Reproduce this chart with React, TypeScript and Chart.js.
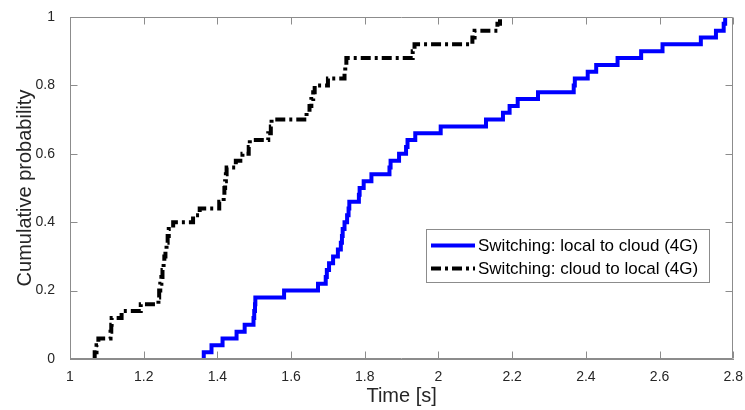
import React, { useEffect, useRef } from 'react';
import { Chart, registerables } from 'chart.js';

Chart.register(...registerables);

const X_TICKS = [1, 1.2, 1.4, 1.6, 1.8, 2, 2.2, 2.4, 2.6, 2.8];
const Y_TICKS = [0, 0.2, 0.4, 0.6, 0.8, 1];
const X_TITLE = 'Time [s]';
const Y_TITLE = 'Cumulative probability';
const SERIES_LABELS = ['Switching: local to cloud (4G)', 'Switching: cloud to local (4G)'];

// Series 1: local to cloud (empirical CDF steps)
const L2C_TIME = [
  1.363, 1.363, 1.384, 1.414, 1.452, 1.474, 1.498, 1.5, 1.502, 1.503,
  1.581, 1.673, 1.694, 1.697, 1.703, 1.714, 1.727, 1.735, 1.738, 1.74,
  1.745, 1.752, 1.756, 1.758, 1.784, 1.786, 1.797, 1.818, 1.867, 1.87,
  1.893, 1.912, 1.916, 1.937, 2.006, 2.129, 2.175, 2.193, 2.215, 2.27,
  2.367, 2.37, 2.405, 2.428, 2.486, 2.55, 2.608, 2.712, 2.753, 2.774,
  2.778,
];
const L2C_PROB = [
  0, 0.02, 0.04, 0.06, 0.08, 0.1, 0.12, 0.14, 0.16, 0.18,
  0.2, 0.22, 0.24, 0.26, 0.28, 0.3, 0.32, 0.34, 0.36, 0.38,
  0.4, 0.42, 0.44, 0.46, 0.48, 0.5, 0.52, 0.54, 0.56, 0.58,
  0.6, 0.62, 0.64, 0.66, 0.68, 0.7, 0.72, 0.74, 0.76, 0.78,
  0.8, 0.82, 0.84, 0.86, 0.88, 0.9, 0.92, 0.94, 0.96, 0.98,
  1,
];

// Series 2: cloud to local
const C2L_TIME = [
  1.067, 1.067, 1.072, 1.077, 1.11, 1.112, 1.113, 1.14, 1.192, 1.24,
  1.242, 1.245, 1.248, 1.251, 1.254, 1.256, 1.259, 1.262, 1.265, 1.268,
  1.28, 1.334, 1.352, 1.405, 1.417, 1.419, 1.421, 1.423, 1.425, 1.45,
  1.468, 1.485, 1.488, 1.538, 1.545, 1.547, 1.642, 1.65, 1.655, 1.66,
  1.664, 1.7, 1.745, 1.747, 1.75, 1.93, 1.935, 2.092, 2.098, 2.16,
  2.167,
];
const C2L_PROB = [
  0, 0.02, 0.04, 0.06, 0.08, 0.1, 0.12, 0.14, 0.16, 0.18,
  0.2, 0.22, 0.24, 0.26, 0.28, 0.3, 0.32, 0.34, 0.36, 0.38,
  0.4, 0.42, 0.44, 0.46, 0.48, 0.5, 0.52, 0.54, 0.56, 0.58,
  0.6, 0.62, 0.64, 0.66, 0.68, 0.7, 0.72, 0.74, 0.76, 0.78,
  0.8, 0.82, 0.84, 0.86, 0.88, 0.9, 0.92, 0.94, 0.96, 0.98,
  1,
];

const FONT = '"Liberation Sans", Arial, Helvetica, sans-serif';
const TEXT_COLOR = '#262626';
const FRAME_COLOR = '#8c8c8c';

const framePlugin = {
  id: 'matlabFrame',
  afterDraw(chart: any) {
    const ctx: CanvasRenderingContext2D = chart.ctx;
    const xs = chart.scales.x;
    const ys = chart.scales.y;
    const tl = 7;
    const L = Math.round(xs.getPixelForValue(X_TICKS[0])) + 0.5;
    const R = Math.round(xs.getPixelForValue(X_TICKS[X_TICKS.length - 1])) - 0.5;
    const T = Math.round(ys.getPixelForValue(Y_TICKS[Y_TICKS.length - 1])) + 0.5;
    const B = Math.round(ys.getPixelForValue(Y_TICKS[0])) - 0.5;

    ctx.save();
    ctx.setLineDash([]);
    ctx.globalAlpha = 1;
    ctx.strokeStyle = FRAME_COLOR;
    ctx.lineWidth = 1;
    ctx.beginPath();
    ctx.moveTo(L, T);
    ctx.lineTo(R, T);
    ctx.lineTo(R, B);
    ctx.lineTo(L, B);
    ctx.closePath();
    for (const v of X_TICKS) {
      const px = Math.round(xs.getPixelForValue(v)) + 0.5;
      ctx.moveTo(px, B);
      ctx.lineTo(px, B - tl);
      ctx.moveTo(px, T);
      ctx.lineTo(px, T + tl);
    }
    for (const v of Y_TICKS) {
      const py = Math.round(ys.getPixelForValue(v)) + 0.5;
      ctx.moveTo(L, py);
      ctx.lineTo(L + tl, py);
      ctx.moveTo(R, py);
      ctx.lineTo(R - tl, py);
    }
    ctx.stroke();

    // legend box
    const bx = 426.5;
    const by = 229.5;
    const bw = 283;
    const bh = 53;
    ctx.fillStyle = '#ffffff';
    ctx.fillRect(bx, by, bw, bh);
    ctx.strokeStyle = FRAME_COLOR;
    ctx.lineWidth = 1;
    ctx.strokeRect(bx, by, bw, bh);
    chart.data.datasets.forEach((ds: any, i: number) => {
      const yy = 245.5 + i * 23;
      ctx.save();
      ctx.strokeStyle = ds.borderColor;
      ctx.lineWidth = ds.borderWidth;
      ctx.setLineDash(ds.borderDash || []);
      ctx.lineCap = 'butt';
      ctx.beginPath();
      ctx.moveTo(431, yy);
      ctx.lineTo(475, yy);
      ctx.stroke();
      ctx.restore();
      ctx.fillStyle = '#000000';
      ctx.font = `17px ${FONT}`;
      ctx.textBaseline = 'middle';
      ctx.textAlign = 'left';
      ctx.fillText(ds.label, 478, yy + 0.5);
    });
    ctx.restore();
  },
};

export default function App() {
  const ref = useRef<HTMLCanvasElement>(null);
  useEffect(() => {
    const canvas = ref.current;
    if (!canvas) return;
    const chart = new Chart(canvas, {
      type: 'line',
      data: {
        datasets: [
          {
            label: SERIES_LABELS[0],
            data: L2C_TIME.map((t, i) => ({ x: t, y: L2C_PROB[i] })),
            borderColor: '#0000ff',
            borderWidth: 4,
            stepped: 'before',
            pointRadius: 0,
            fill: false,
            borderJoinStyle: 'miter',
            borderCapStyle: 'butt',
            order: 0,
          },
          {
            label: SERIES_LABELS[1],
            data: C2L_TIME.map((t, i) => ({ x: t, y: C2L_PROB[i] })),
            borderColor: '#000000',
            borderWidth: 4,
            borderDash: [10, 4, 3, 4],
            stepped: 'before',
            pointRadius: 0,
            fill: false,
            borderJoinStyle: 'miter',
            borderCapStyle: 'butt',
            order: 1,
          },
        ],
      },
      options: {
        responsive: false,
        animation: false,
        devicePixelRatio: 1,
        layout: { padding: { top: 17, right: 11, left: 0, bottom: 0 } },
        plugins: {
          legend: { display: false },
          tooltip: { enabled: false },
        },
        scales: {
          x: {
            type: 'linear',
            min: 1,
            max: 2.8,
            afterBuildTicks: (s: any) => {
              s.ticks = X_TICKS.map((v) => ({ value: v }));
            },
            afterFit: (s: any) => {
              s.height = 51;
            },
            grid: { display: false },
            border: { display: true, color: FRAME_COLOR, width: 1 },
            ticks: {
              autoSkip: false,
              maxRotation: 0,
              padding: 2,
              color: TEXT_COLOR,
              font: { family: FONT, size: 14 },
              callback: (v: any) => String(v),
            },
            title: {
              display: true,
              text: X_TITLE,
              color: TEXT_COLOR,
              font: { family: FONT, size: 20 },
              padding: { top: 0, bottom: 2 },
            },
          },
          y: {
            type: 'linear',
            min: 0,
            max: 1,
            afterBuildTicks: (s: any) => {
              s.ticks = Y_TICKS.map((v) => ({ value: v }));
            },
            afterFit: (s: any) => {
              s.width = 70;
            },
            grid: { display: false },
            border: { display: true, color: FRAME_COLOR, width: 1 },
            ticks: {
              autoSkip: false,
              padding: 7,
              color: TEXT_COLOR,
              font: { family: FONT, size: 14 },
              callback: (v: any) => String(v),
            },
            title: {
              display: true,
              text: Y_TITLE,
              color: TEXT_COLOR,
              font: { family: FONT, size: 20 },
              padding: { top: 13, bottom: 0 },
            },
          },
        },
      },
      plugins: [framePlugin],
    } as any);
    return () => chart.destroy();
  }, []);
  return (
    <div style={{ position: 'fixed', left: 0, top: 0, width: 745, height: 410, background: '#ffffff' }}>
      <canvas ref={ref} width={745} height={410} style={{ display: 'block', width: 745, height: 410 }} />
    </div>
  );
}
